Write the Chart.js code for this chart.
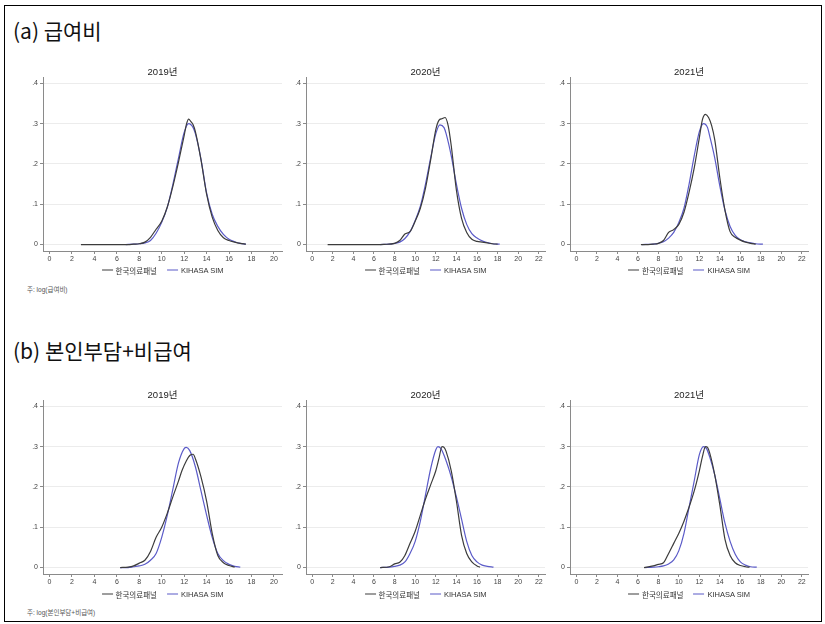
<!DOCTYPE html>
<html>
<head>
<meta charset="utf-8">
<script src="https://cdn.jsdelivr.net/npm/chart.js@4.4.1/dist/chart.umd.min.js"></script>
<style>
  html, body { margin:0; padding:0; background:#fff; }
  #wrap { position:relative; width:825px; height:624px; overflow:hidden; background:#fff; }
  #frame { position:absolute; left:4px; top:5px; width:816px; height:615px; border:1px solid #000; }
  .txt { position:absolute; white-space:nowrap; line-height:1; transform:translateY(-50%); color:#222;
         font-family:"Liberation Sans","Noto Sans CJK KR",sans-serif; }
  .hdr { font-family:"Noto Sans CJK KR","Noto Sans",sans-serif; font-size:21px; color:#111; left:13px; }
  .ptitle { font-size:9.5px; transform:translate(-50%,-50%); color:#222; }
  .note { font-size:6.5px; color:#555; left:27px; }
  .legend { position:absolute; display:flex; align-items:center; transform:translate(-50%,-50%);
            font-family:"Liberation Sans","Noto Sans CJK KR",sans-serif; font-size:7.5px; color:#333; white-space:nowrap; }
  .legend .sw { display:inline-block; width:11px; height:1.3px; margin-right:3px; }
  .legend .lab { margin-right:10px; }
  canvas { position:absolute; }
</style>
</head>
<body>
<div id="wrap">
  <div id="frame"></div>
  <div class="txt hdr" style="top:30px;">(a) 급여비</div>
  <div class="txt hdr" style="top:350px;">(b) 본인부담+비급여</div>
  <div class="txt note" style="top:290px;">주: log(급여비)</div>
  <div class="txt note" style="top:613px;">주: log(본인부담+비급여)</div>
</div>
<script>
// ---- tick labels / categories ----
const yearLabels = ["2019년", "2020년", "2021년"];
const seriesNames = ["한국의료패널", "KIHASA SIM"];
const yTicks = [0, 0.1, 0.2, 0.3, 0.4];
const xTicks2019 = [0,2,4,6,8,10,12,14,16,18,20];
const xTicksWide = [0,2,4,6,8,10,12,14,16,18,20,22];

// ---- (a) 급여비 ----
const a19_panel_x = [2.8,4,6,7,7.5,8,8.5,9,9.5,10,10.5,11,11.5,12,12.2,12.4,12.6,12.8,13,13.5,14,14.5,15,15.5,16,16.5,17,17.5];
const a19_panel_y = [0,0,0,0,0.001,0.002,0.006,0.018,0.038,0.058,0.093,0.145,0.205,0.27,0.298,0.311,0.305,0.297,0.28,0.21,0.125,0.068,0.035,0.017,0.01,0.006,0.003,0.001];
const a19_sim_x = [6.8,7.5,8,8.5,9,9.5,10,10.5,11,11.5,12,12.4,12.8,13,13.5,14,14.5,15,15.5,16,16.5,17,17.5];
const a19_sim_y = [0,0.001,0.002,0.004,0.01,0.028,0.055,0.093,0.15,0.215,0.278,0.30,0.29,0.275,0.212,0.128,0.075,0.045,0.025,0.013,0.007,0.003,0.001];

const a20_panel_x = [1.5,4,6,7,8,8.5,9,9.5,10,10.5,11,11.5,12,12.3,12.6,12.9,13.2,13.5,14,14.5,15,15.5,16,16.5,17,17.5,18];
const a20_panel_y = [0,0,0,0.0005,0.003,0.01,0.026,0.032,0.058,0.09,0.14,0.21,0.285,0.308,0.312,0.315,0.295,0.245,0.135,0.065,0.03,0.013,0.008,0.006,0.004,0.002,0.001];
const a20_sim_x = [6.6,7.5,8,8.5,9,9.5,10,10.5,11,11.5,12,12.4,12.8,13,13.5,14,14.5,15,15.5,16,16.5,17,17.5,18.2];
const a20_sim_y = [0,0.001,0.003,0.006,0.015,0.032,0.06,0.095,0.15,0.215,0.275,0.297,0.29,0.275,0.22,0.15,0.09,0.05,0.027,0.016,0.009,0.005,0.002,0.001];

const a21_panel_x = [6.3,7,7.5,8,8.5,9,9.5,10,10.5,11,11.5,12,12.3,12.6,12.9,13.2,13.5,14,14.5,15,15.5,16,16.5,17,17.5];
const a21_panel_y = [0,0,0.001,0.003,0.01,0.03,0.037,0.05,0.08,0.13,0.19,0.265,0.31,0.323,0.315,0.295,0.26,0.165,0.085,0.032,0.018,0.011,0.006,0.003,0.001];
const a21_sim_x = [6.4,7.5,8,8.5,9,9.5,10,10.5,11,11.5,12,12.4,12.8,13,13.5,14,14.5,15,15.5,16,16.5,17,17.5,18.2];
const a21_sim_y = [0,0.001,0.003,0.007,0.016,0.03,0.055,0.09,0.15,0.22,0.28,0.30,0.29,0.27,0.215,0.145,0.085,0.045,0.023,0.012,0.007,0.004,0.002,0.001];

// ---- (b) 본인부담+비급여 ----
const b19_panel_x = [6.3,7,7.5,8,8.5,9,9.5,10,10.5,11,11.5,11.8,12.2,12.5,12.8,13,13.5,14,14.5,15,15.5,16,16.5];
const b19_panel_y = [0,0.001,0.004,0.011,0.018,0.04,0.075,0.1,0.135,0.176,0.215,0.24,0.265,0.278,0.281,0.27,0.225,0.165,0.085,0.03,0.012,0.005,0.001];
const b19_sim_x = [6.3,7,7.5,8,8.5,9,9.5,10,10.5,11,11.5,12,12.2,12.5,13,13.5,14,14.5,15,15.5,16,16.5,17];
const b19_sim_y = [0,0,0.002,0.004,0.008,0.018,0.035,0.075,0.13,0.195,0.26,0.295,0.298,0.29,0.25,0.19,0.13,0.075,0.035,0.017,0.008,0.003,0.001];

const b20_panel_x = [6.6,7.5,8,8.5,9,9.5,10,10.5,11,11.5,12,12.3,12.6,12.8,13,13.5,14,14.5,15,15.5,16,16.3];
const b20_panel_y = [0,0.002,0.009,0.013,0.03,0.06,0.09,0.13,0.17,0.205,0.24,0.27,0.3,0.298,0.288,0.24,0.165,0.08,0.035,0.014,0.004,0.001];
const b20_sim_x = [6.6,7.5,8,8.5,9,9.5,10,10.5,11,11.5,12,12.2,12.5,13,13.5,14,14.5,15,15.5,16,16.5,17,17.6];
const b20_sim_y = [0,0.001,0.003,0.006,0.014,0.035,0.065,0.115,0.18,0.245,0.292,0.3,0.295,0.265,0.225,0.175,0.12,0.065,0.03,0.014,0.006,0.003,0.001];

const b21_panel_x = [6.6,7.5,8,8.5,9,9.5,10,10.5,11,11.5,12,12.3,12.6,12.8,13,13.5,14,14.5,15,15.5,16,16.5,16.9];
const b21_panel_y = [0,0.004,0.008,0.012,0.035,0.06,0.085,0.115,0.15,0.19,0.24,0.275,0.3,0.298,0.285,0.23,0.155,0.07,0.03,0.012,0.005,0.002,0.001];
const b21_sim_x = [6.7,7.5,8,8.5,9,9.5,10,10.5,11,11.5,12,12.4,12.7,13,13.5,14,14.5,15,15.5,16,16.5,17,17.6];
const b21_sim_y = [0,0.001,0.002,0.004,0.009,0.019,0.042,0.085,0.15,0.215,0.28,0.30,0.295,0.275,0.23,0.17,0.11,0.065,0.033,0.014,0.006,0.002,0.001];

// ---- styling ----
const COL_PANEL = "#3c3c3c";
const COL_SIM = "#5b5bc8";
const AX = "#8a8a8a";
const FONT = '"Liberation Sans","Noto Sans CJK KR",sans-serif';

function pts(xs, ys) { return xs.map((x, i) => ({ x: x, y: ys[i] })); }

const wrap = document.getElementById("wrap");
function addText(cls, text, left, top) {
  const d = document.createElement("div");
  d.className = "txt " + cls;
  d.textContent = text;
  d.style.left = left + "px";
  d.style.top = top + "px";
  wrap.appendChild(d);
}
function addLegend(cx, cy) {
  const d = document.createElement("div");
  d.className = "legend";
  d.style.left = cx + "px";
  d.style.top = cy + "px";
  d.innerHTML =
    '<span class="sw" style="background:' + COL_PANEL + '"></span><span class="lab">' + seriesNames[0] + '</span>' +
    '<span class="sw" style="background:' + COL_SIM + '"></span><span>' + seriesNames[1] + '</span>';
  wrap.appendChild(d);
}

const PADL = 25, PADT = 6, PADR = 10, PADB = 16;

function panel(cfg) {
  const c = document.createElement("canvas");
  const w = (cfg.right - cfg.left) + PADL + PADR;
  const h = (cfg.bottom - cfg.top) + PADT + PADB;
  c.width = w; c.height = h;
  c.style.left = (cfg.left - PADL) + "px";
  c.style.top = (cfg.top - PADT) + "px";
  c.style.width = w + "px"; c.style.height = h + "px";
  wrap.appendChild(c);

  new Chart(c.getContext("2d"), {
    type: "line",
    data: {
      datasets: [
        { label: seriesNames[0], data: pts(cfg.px, cfg.py), borderColor: COL_PANEL, borderWidth: 1.2,
          pointRadius: 0, fill: false, cubicInterpolationMode: "monotone" },
        { label: seriesNames[1], data: pts(cfg.sx, cfg.sy), borderColor: COL_SIM, borderWidth: 1.2,
          pointRadius: 0, fill: false, cubicInterpolationMode: "monotone" }
      ]
    },
    options: {
      responsive: false, animation: false, devicePixelRatio: 1,
      layout: { padding: { left: 0, top: PADT, right: PADR, bottom: 0 } },
      plugins: { legend: { display: false }, title: { display: false }, tooltip: { enabled: false } },
      scales: {
        x: {
          type: "linear", min: cfg.xmin, max: cfg.xmax,
          afterBuildTicks: (s) => { s.ticks = cfg.xt.map(v => ({ value: v })); },
          afterFit: (s) => { s.height = PADB; },
          ticks: { autoSkip: false, maxRotation: 0, padding: 1, color: "#444", font: { size: 7, family: FONT } },
          grid: { drawOnChartArea: false, drawTicks: true, tickLength: 3, tickColor: AX },
          border: { display: true, color: AX, width: 1 }
        },
        y: {
          type: "linear", min: cfg.ymin, max: cfg.ymax,
          afterBuildTicks: (s) => { s.ticks = yTicks.map(v => ({ value: v })); },
          afterFit: (s) => { s.width = PADL; },
          ticks: { padding: 2, color: "#444", font: { size: 7, family: FONT },
                   callback: (v) => v === 0 ? "0" : "." + Math.round(v * 10) },
          grid: { color: "#ececec", lineWidth: 1, drawTicks: true, tickLength: 3, tickColor: AX },
          border: { display: true, color: AX, width: 1 }
        }
      }
    }
  });

  addText("ptitle", cfg.title, (cfg.left + cfg.right) / 2, cfg.titleY);
  addLegend((cfg.left + cfg.right) / 2, cfg.legendY);
}

const A = { top: 77, bottom: 251, ymin: -0.016, ymax: 0.415, titleY: 72, legendY: 270 };
const B = { top: 400, bottom: 574, ymin: -0.016, ymax: 0.415, titleY: 395, legendY: 594 };

panel(Object.assign({}, A, { left: 43, right: 282, xmin: -0.58, xmax: 20.72, xt: xTicks2019, title: yearLabels[0],
  px: a19_panel_x, py: a19_panel_y, sx: a19_sim_x, sy: a19_sim_y }));
panel(Object.assign({}, A, { left: 306, right: 545, xmin: -0.6, xmax: 22.6, xt: xTicksWide, title: yearLabels[1],
  px: a20_panel_x, py: a20_panel_y, sx: a20_sim_x, sy: a20_sim_y }));
panel(Object.assign({}, A, { left: 570, right: 808, xmin: -0.62, xmax: 22.6, xt: xTicksWide, title: yearLabels[2],
  px: a21_panel_x, py: a21_panel_y, sx: a21_sim_x, sy: a21_sim_y }));

panel(Object.assign({}, B, { left: 43, right: 282, xmin: -0.58, xmax: 20.72, xt: xTicks2019, title: yearLabels[0],
  px: b19_panel_x, py: b19_panel_y, sx: b19_sim_x, sy: b19_sim_y }));
panel(Object.assign({}, B, { left: 306, right: 545, xmin: -0.6, xmax: 22.6, xt: xTicksWide, title: yearLabels[1],
  px: b20_panel_x, py: b20_panel_y, sx: b20_sim_x, sy: b20_sim_y }));
panel(Object.assign({}, B, { left: 570, right: 808, xmin: -0.62, xmax: 22.6, xt: xTicksWide, title: yearLabels[2],
  px: b21_panel_x, py: b21_panel_y, sx: b21_sim_x, sy: b21_sim_y }));
</script>
</body>
</html>
